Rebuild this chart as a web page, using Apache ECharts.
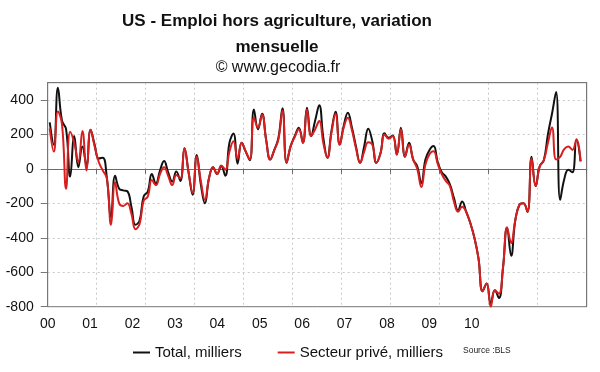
<!DOCTYPE html>
<html>
<head>
<meta charset="utf-8">
<script src="https://cdn.jsdelivr.net/npm/echarts@6/dist/echarts.min.js"></script>
<style>
html,body{margin:0;padding:0;background:#fff;}
#c{width:600px;height:372px;}
</style>
</head>
<body>
<div id="c"></div>
<script>
// ---- data (monthly, Jan 2000 .. Nov 2010), thousands ----
const years = [2000,2001,2002,2003,2004,2005,2006,2007,2008,2009,2010];
const yearLabels = ['00','01','02','03','04','05','06','07','08','09','10'];
const yTicks = [-800,-600,-400,-200,0,200,400];

const totalValues = [
  270, 140, 470, 280, 230, -45, 190, 10, 130, 20, 227, 140,
  60, 65, -55, -280, -40, -115, -125, -130, -220, -325, -300, -160,
  -132, -30, -85, -10, 45, -20, -74, -16, -70, 120, -20, -150,
  80, -90, -200, -55, 10, -30, 15, -40, 150, 205, 30, 151,
  100, 50, 345, 229, 320, 170, 54, 110, 180, 351, 35, 132,
  190, 239, 151, 355, 190, 280, 369, 180, 64, 220, 332, 142,
  250, 326, 240, 130, 35, 130, 233, 160, 35, 90, 206, 180,
  194, 83, 239, 70, 151, 54, 15, -82, 54, 110, 132, 40,
  -20, -45, -90, -170, -240, -190, -250, -315, -400, -520, -710, -665,
  -780, -705, -750, -575, -340, -505, -300, -210, -200, -250, 70, -100,
  15, 50, 200, 320, 446, -180, -60, -5, -20, 170, 44
];
const privateValues = [
  235, 100, 333, 260, -115, 215, 150, 40, 220, -10, 227, 130,
  40, -10, -55, -325, -78, -200, -215, -200, -260, -350, -320, -185,
  -161, -65, -95, -30, 10, -40, -94, -35, -55, 120, -20, -140,
  72, -70, -180, -55, 10, -30, 20, -5, 100, 160, 60, 151,
  100, 55, 297, 239, 314, 165, 54, 110, 170, 339, 35, 132,
  185, 230, 151, 345, 190, 230, 277, 150, 64, 210, 320, 140,
  240, 297, 225, 120, 35, 100, 155, 140, 35, 90, 200, 175,
  190, 83, 230, 70, 140, 54, 0, -105, 25, 85, 102, 30,
  -30, -70, -100, -190, -249, -220, -250, -315, -400, -520, -710, -665,
  -800, -705, -725, -575, -340, -430, -300, -210, -200, -250, 60, -100,
  15, 50, 150, 240, 55, 70, 115, 130, 110, 170, 44
];

// month categories (Jan 2000 .. Dec 2010)
const months = [];
years.forEach(y => { for (let m = 1; m <= 12; m++) months.push(y + '-' + (m < 10 ? '0' : '') + m); });

const FONT = '"Liberation Sans", Arial, sans-serif';
const BORDER = '#777777';
const chart = echarts.init(document.getElementById('c'), null, {renderer: 'canvas'});
const yearBoundary = (i) => i % 12 === 0;
const innerYearBoundary = (i) => i % 12 === 0 && i > 0 && i < months.length;

chart.setOption({
  backgroundColor: '#ffffff',
  animation: false,
  textStyle: {fontFamily: FONT},
  title: [
    {
      text: 'US - Emploi hors agriculture, variation\nmensuelle',
      left: 277, top: 8, padding: 0, textAlign: 'center',
      textStyle: {fontFamily: FONT, fontSize: 17, fontWeight: 'bold', color: '#111', lineHeight: 26}
    },
    {
      text: '© www.gecodia.fr',
      left: 278, top: 59, padding: 0, textAlign: 'center',
      textStyle: {fontFamily: FONT, fontSize: 16, fontWeight: 'normal', color: '#111', lineHeight: 18}
    }
  ],
  legend: {
    left: 133, top: 345, padding: 0,
    itemWidth: 17, itemHeight: 2, itemGap: 36,
    icon: 'rect',
    textStyle: {fontFamily: FONT, fontSize: 15, color: '#111'},
    data: ['Total, milliers', 'Secteur privé, milliers']
  },
  graphic: [{
    type: 'text', left: 463, top: 346,
    style: {text: 'Source :BLS', fontFamily: FONT, fontSize: 8.5, fill: '#222'}
  }],
  grid: {
    left: 47.7, right: 13.3, top: 82.7, bottom: 65.3,
    show: true, borderColor: BORDER, borderWidth: 1, backgroundColor: '#fff'
  },
  xAxis: [
    {
      type: 'category', data: months, boundaryGap: true,
      axisLine: {onZero: true, lineStyle: {color: '#6a6a6a', width: 1.2}},
      axisTick: {show: true, interval: yearBoundary, length: 5, lineStyle: {color: '#6a6a6a'}},
      axisLabel: {show: false},
      splitLine: {show: true, interval: innerYearBoundary, lineStyle: {type: [2, 3], color: '#c8c8c8', width: 1}}
    },
    {
      type: 'value', position: 'bottom', min: 0, max: 12.71, interval: 1,
      axisLine: {show: false, onZero: false}, axisTick: {show: false}, splitLine: {show: false},
      axisLabel: {
        fontFamily: FONT, fontSize: 14, color: '#111', margin: 10,
        formatter: v => (Number.isInteger(v) && v < yearLabels.length) ? yearLabels[v] : ''
      }
    },
    {
      type: 'value', position: 'top', min: 0, max: 1,
      axisLine: {show: true, onZero: false, lineStyle: {color: BORDER, width: 1}},
      axisTick: {show: false}, axisLabel: {show: false}, splitLine: {show: false}
    }
  ],
  yAxis: [
    {
      type: 'value', min: yTicks[0], max: 500, interval: 200,
      axisLine: {show: true, lineStyle: {color: BORDER}},
      axisTick: {show: true, length: 7, lineStyle: {color: BORDER}},
      axisLabel: {
        fontFamily: FONT, fontSize: 14, color: '#111', margin: 14, showMaxLabel: false,
        formatter: v => yTicks.indexOf(v) >= 0 ? String(v) : ''
      },
      splitLine: {show: true, showMinLine: false, showMaxLine: false, lineStyle: {type: [2, 3], color: '#c8c8c8', width: 1}}
    },
    {
      type: 'value', position: 'right', min: 0, max: 1,
      axisLine: {show: true, onZero: false, lineStyle: {color: BORDER, width: 1}},
      axisTick: {show: false}, axisLabel: {show: false}, splitLine: {show: false}
    }
  ],
  series: [
    {
      name: 'Total, milliers', type: 'line', xAxisIndex: 0, yAxisIndex: 0, data: totalValues,
      smooth: 0.45, showSymbol: false, symbol: 'none',
      lineStyle: {color: '#111111', width: 2}, itemStyle: {color: '#111111'}, z: 3
    },
    {
      name: 'Secteur privé, milliers', type: 'line', xAxisIndex: 0, yAxisIndex: 0, data: privateValues,
      smooth: 0.45, showSymbol: false, symbol: 'none',
      lineStyle: {color: '#d81e1e', width: 2}, itemStyle: {color: '#d81e1e'}, z: 4
    }
  ]
});
</script>
</body>
</html>
